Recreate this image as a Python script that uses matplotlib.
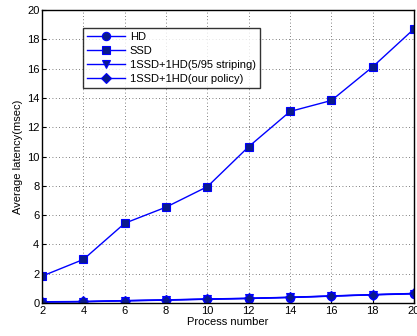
import numpy as np
import matplotlib.pyplot as plt

plt.rcParams['font.family'] = ['Liberation Sans', 'DejaVu Sans']

# Average latency (msec) per number of processes
processes = [2, 4, 6, 8, 10, 12, 14, 16, 18, 20]
hd = [0.07, 0.09, 0.15, 0.20, 0.26, 0.31, 0.38, 0.47, 0.56, 0.63]
ssd = [1.84, 2.98, 5.45, 6.55, 7.95, 10.68, 13.08, 13.83, 16.13, 18.72]
striping = [0.08, 0.10, 0.16, 0.21, 0.27, 0.32, 0.39, 0.48, 0.57, 0.65]
our_policy = [0.09, 0.11, 0.17, 0.22, 0.28, 0.33, 0.40, 0.49, 0.58, 0.66]

line_color = '#0000ff'
face_color = '#0a1a8c'

fig = plt.figure(figsize=(4.17, 3.36), dpi=100)
ax = fig.add_axes([0.101, 0.098, 0.892, 0.872])

series = [
    (hd, 'o', 'HD'),
    (ssd, 's', 'SSD'),
    (striping, 'v', '1SSD+1HD(5/95 striping)'),
    (our_policy, 'D', '1SSD+1HD(our policy)'),
]
for values, marker, label in series:
    ax.plot(processes, values, color=line_color, linewidth=1.0, marker=marker,
            markersize=6 if marker != 'D' else 5, markerfacecolor=face_color,
            markeredgecolor=line_color, markeredgewidth=0.8, label=label)

ax.set_xlim(2, 20)
ax.set_ylim(0, 20)
ax.set_xticks(processes)
ax.set_yticks(np.arange(0, 21, 2))
ax.tick_params(direction='in', labelsize=8, length=3, pad=2)
ax.grid(True, linestyle=(0, (1, 3)), color='#555555', linewidth=0.6)
for side in ax.spines.values():
    side.set_linewidth(1.0)

ax.set_xlabel('Process number', fontsize=8, labelpad=1)
ax.set_ylabel('Average latency(msec)', fontsize=8, labelpad=3)

leg = ax.legend(loc='upper left', bbox_to_anchor=(0.11, 0.94), fontsize=8,
                frameon=True, fancybox=False, edgecolor='black',
                handlelength=3.4, handletextpad=0.4, labelspacing=0.35,
                borderpad=0.4, borderaxespad=0)
leg.get_frame().set_linewidth(1.0)

fig.savefig('out.png', dpi=100)
